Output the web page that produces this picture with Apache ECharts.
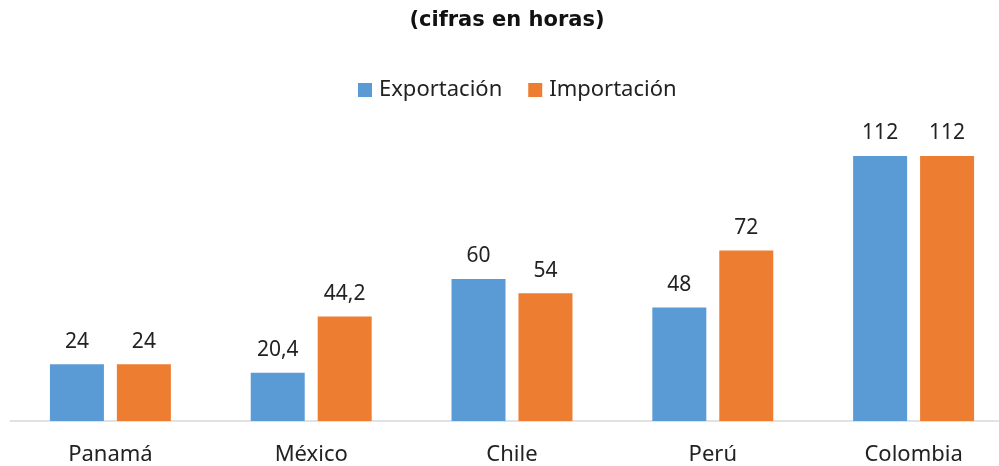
<!DOCTYPE html>
<html>
<head>
<meta charset="utf-8">
<script src="https://cdn.jsdelivr.net/npm/echarts@6/dist/echarts.min.js"></script>
<style>
  html, body { margin: 0; padding: 0; background: #fff; overflow: hidden; }
  /* the chart runs a little past the right edge of the window */
  #chart { width: 1014px; height: 466px; }
</style>
</head>
<body>
<div id="chart"></div>
<script>
// Tiempo de cumplimiento fronterizo por país (horas)
const categories = ['Panamá', 'México', 'Chile', 'Perú', 'Colombia'];
const exportacion = [24, 20.4, 60, 48, 112];
const importacion = [24, 44.2, 54, 72, 112];

const FONT = '"Noto Sans", Lato, sans-serif';
const fmt = p => String(p.value).replace('.', ',');

const chart = echarts.init(document.getElementById('chart'), null, { renderer: 'canvas' });
chart.setOption({
  animation: false,
  backgroundColor: '#ffffff',
  title: {
    text: '(cifras en horas)',
    left: 'center',
    top: 5,
    textStyle: { fontFamily: '"DejaVu Sans", sans-serif', fontWeight: 'bold', fontSize: 21, color: '#111' }
  },
  legend: {
    top: 74,
    left: 353,
    itemWidth: 14,
    itemHeight: 14,
    itemGap: 26,
    icon: 'rect',
    textStyle: { fontFamily: FONT, fontSize: 22, color: '#222', padding: [0, 0, 0, 2] },
    data: ['Exportación', 'Importación']
  },
  grid: { left: 10, right: 0, top: 137, bottom: 44 },
  xAxis: {
    type: 'category',
    data: categories,
    axisLine: { lineStyle: { color: '#d9d9d9', width: 1.5 } },
    axisTick: { show: false },
    axisLabel: { fontFamily: FONT, fontSize: 22, color: '#222', margin: 23 }
  },
  yAxis: {
    type: 'value',
    min: 0,
    max: 120,
    show: false,
    splitLine: { show: false }
  },
  series: [
    {
      name: 'Exportación',
      type: 'bar',
      data: exportacion,
      barWidth: 54,
      barGap: '24%',
      itemStyle: { color: '#5b9bd5' },
      label: { show: true, position: 'top', distance: 12, formatter: fmt,
               fontFamily: FONT, fontSize: 21, color: '#222' }
    },
    {
      name: 'Importación',
      type: 'bar',
      data: importacion,
      barWidth: 54,
      barGap: '24%',
      itemStyle: { color: '#ed7d31' },
      label: { show: true, position: 'top', distance: 12, formatter: fmt,
               fontFamily: FONT, fontSize: 21, color: '#222' }
    }
  ]
});
</script>
</body>
</html>
